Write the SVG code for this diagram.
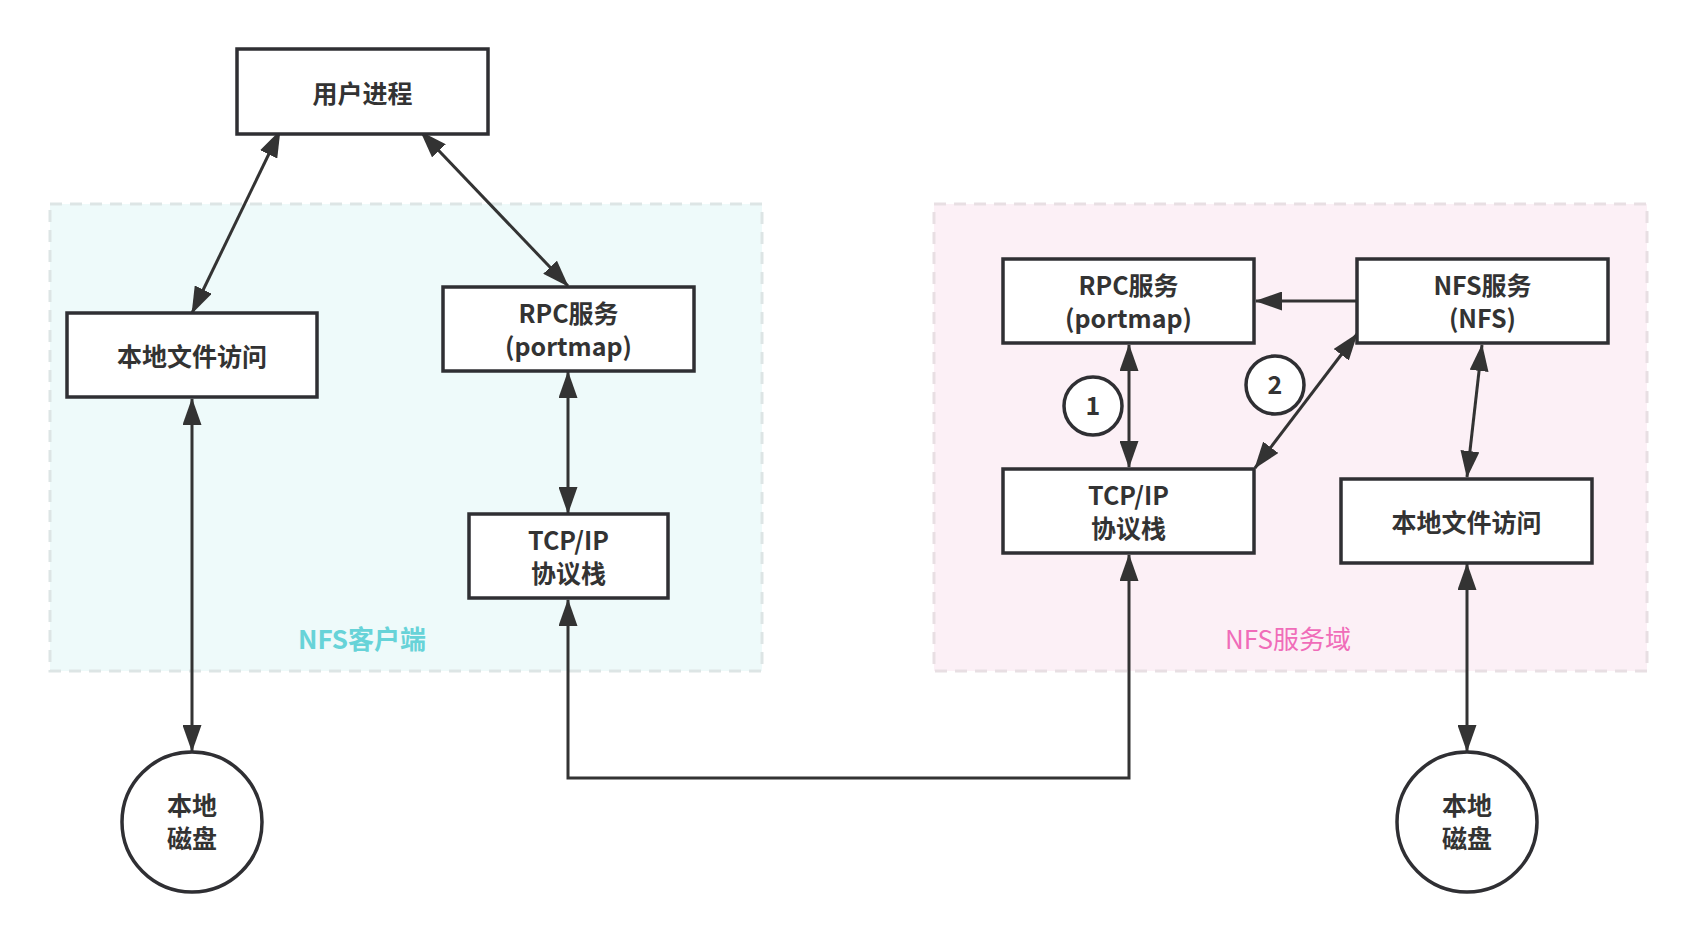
<svg xmlns="http://www.w3.org/2000/svg" width="1696" height="942" viewBox="0 0 1696 942">
<style>
.box{fill:#ffffff;stroke:#2f2f33;stroke-width:3.5}
.t{font-family:"Noto Sans CJK SC","Noto Sans",sans-serif;font-weight:bold;font-size:25px;fill:#333333;text-anchor:middle}
.c{fill:none;stroke:#333333;stroke-width:3}
.grp{stroke-width:3;stroke-dasharray:12 8}
</style>
<defs>
<marker id="ah" markerUnits="userSpaceOnUse" markerWidth="27" markerHeight="19" refX="26" refY="9.5" orient="auto-start-reverse" viewBox="0 0 27 19">
<path d="M0,0 L27,9.5 L0,19 z" fill="#333333"/>
</marker>
</defs>
<rect width="1696" height="942" fill="#ffffff"/>
<g id="client-group">
<rect class="grp" x="50" y="204" width="712" height="467" fill="#eefafa" stroke="#dde5e5"/>
<text x="362" y="649" font-family="Noto Sans CJK SC,sans-serif" font-weight="bold" font-size="26" fill="#67d3d8" text-anchor="middle">NFS客户端</text>
</g>
<g id="server-group">
<rect class="grp" x="934" y="204" width="713" height="467" fill="#fcf0f6" stroke="#e8dfe3"/>
<text x="1288" y="649" font-family="Noto Sans CJK SC,sans-serif" font-size="26" fill="#f06cb9" text-anchor="middle">NFS服务域</text>
</g>
<g id="connectors">
<line class="c" x1="280" y1="131" x2="192" y2="313" marker-start="url(#ah)" marker-end="url(#ah)"/>
<line class="c" x1="421" y1="132" x2="568" y2="286" marker-start="url(#ah)" marker-end="url(#ah)"/>
<line class="c" x1="568" y1="372" x2="568" y2="513" marker-start="url(#ah)" marker-end="url(#ah)"/>
<line class="c" x1="192" y1="399" x2="192" y2="751" marker-start="url(#ah)" marker-end="url(#ah)"/>
<path class="c" d="M568,600 L568,778 L1129,778 L1129,555" marker-start="url(#ah)" marker-end="url(#ah)"/>
<line class="c" x1="1356" y1="301" x2="1256" y2="301" marker-end="url(#ah)"/>
<line class="c" x1="1129" y1="345" x2="1129" y2="467" marker-start="url(#ah)" marker-end="url(#ah)"/>
<line class="c" x1="1255" y1="468" x2="1357" y2="334" marker-start="url(#ah)" marker-end="url(#ah)"/>
<line class="c" x1="1482" y1="345" x2="1467" y2="477" marker-start="url(#ah)" marker-end="url(#ah)"/>
<line class="c" x1="1467" y1="564" x2="1467" y2="751" marker-start="url(#ah)" marker-end="url(#ah)"/>
</g>
<g id="user-process">
<rect class="box" x="237" y="49" width="251" height="85"/>
<text class="t" x="362.5" y="103">用户进程</text>
</g>
<g id="client-local-file">
<rect class="box" x="67" y="313" width="250" height="84"/>
<text class="t" x="192" y="366">本地文件访问</text>
</g>
<g id="client-rpc">
<rect class="box" x="443" y="287" width="251" height="84"/>
<text class="t" x="568.5" y="323">RPC服务</text>
<text class="t" x="568.5" y="356">(portmap)</text>
</g>
<g id="client-tcpip">
<rect class="box" x="469" y="514" width="199" height="84"/>
<text class="t" x="568.5" y="550">TCP/IP</text>
<text class="t" x="568.5" y="583">协议栈</text>
</g>
<g id="client-disk">
<circle class="box" cx="192" cy="822" r="70"/>
<text class="t" x="192" y="815">本地</text>
<text class="t" x="192" y="848">磁盘</text>
</g>
<g id="server-rpc">
<rect class="box" x="1003" y="259" width="251" height="84"/>
<text class="t" x="1128.5" y="295">RPC服务</text>
<text class="t" x="1128.5" y="328">(portmap)</text>
</g>
<g id="server-nfs">
<rect class="box" x="1357" y="259" width="251" height="84"/>
<text class="t" x="1482.5" y="295">NFS服务</text>
<text class="t" x="1482.5" y="328">(NFS)</text>
</g>
<g id="server-tcpip">
<rect class="box" x="1003" y="469" width="251" height="84"/>
<text class="t" x="1128.5" y="505">TCP/IP</text>
<text class="t" x="1128.5" y="538">协议栈</text>
</g>
<g id="server-local-file">
<rect class="box" x="1341" y="479" width="251" height="84"/>
<text class="t" x="1466.5" y="532">本地文件访问</text>
</g>
<g id="server-disk">
<circle class="box" cx="1467" cy="822" r="70"/>
<text class="t" x="1467" y="815">本地</text>
<text class="t" x="1467" y="848">磁盘</text>
</g>
<g id="step-1">
<circle class="box" cx="1093" cy="406" r="29"/>
<text class="t" x="1093" y="415">1</text>
</g>
<g id="step-2">
<circle class="box" cx="1275" cy="385" r="29"/>
<text class="t" x="1275" y="394">2</text>
</g>
</svg>
